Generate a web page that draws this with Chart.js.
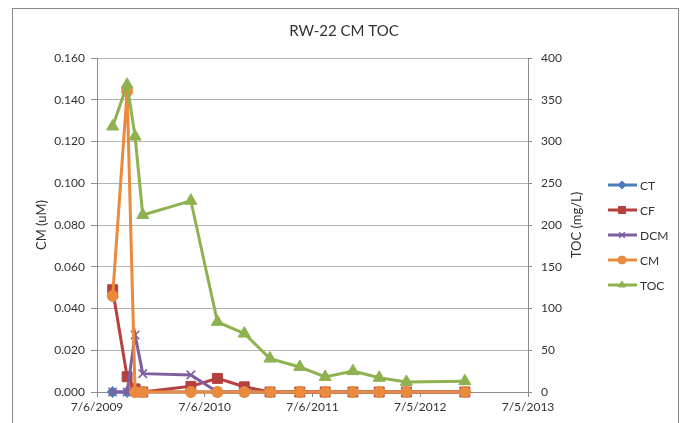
<!DOCTYPE html>
<html>
<head>
<meta charset="utf-8">
<title>RW-22 CM TOC</title>
<script src="https://cdn.jsdelivr.net/npm/chart.js@4/dist/chart.umd.min.js"></script>
<style>
    body { margin: 0; background: #fff; }
    canvas { display: block; }
</style>
</head>
<body>
<canvas id="tocChart" width="684" height="423"></canvas>
<script>
// Sample dates and measured values
const sampleDates = [
    '2009-08-28', '2009-10-16', '2009-11-12', '2009-12-08', '2010-05-20',
    '2010-08-18', '2010-11-17', '2011-02-12', '2011-05-24', '2011-08-18',
    '2011-11-20', '2012-02-17', '2012-05-19', '2012-12-03'
];
const ctValues  = [0, 0, 0, 0, 0, 0, 0, 0, 0, 0, 0, 0, 0, 0];
const cfValues  = [0.049, 0.0073, 0.0015, 0, 0.0027, 0.0065, 0.0025, 0, 0, 0, 0, 0, 0, 0];
const dcmValues = [0, 0, 0.0273, 0.0088, 0.0082, 0, 0, 0, 0, 0, 0, 0, 0, 0];
const cmValues  = [0.046, 0.144, 0, 0, 0, 0, 0, 0, 0, 0, 0, 0, 0, 0];
const tocValues = [318, 368, 306, 212, 229, 84, 70, 40, 30, 18, 25, 17, 12, 13];

// Axis ranges
const axisStart = '2009-07-06';
const axisEnd = '2013-07-05';
const axisStepDays = 365;
const cmMax = 0.16, cmStep = 0.02;
const tocMax = 400, tocStep = 50;

const DAY = 86400000;
const fontFamily = 'Lato, "Open Sans", sans-serif';
const textColor = '#333333';
const axisColor = '#8c8c8c';
const gridColor = '#b4b4b4';

const toPoints = values => values.map((v, i) => ({ x: Date.parse(sampleDates[i]), y: v }));

// m/d/yyyy like the spreadsheet
const formatDate = value => {
    const d = new Date(value);
    return (d.getUTCMonth() + 1) + '/' + d.getUTCDate() + '/' + d.getUTCFullYear();
};

const makeSeries = (label, values, color, style, radius, axis, order) => ({
    label: label,
    data: toPoints(values),
    yAxisID: axis,
    borderColor: color,
    backgroundColor: color,
    pointBackgroundColor: color,
    pointBorderColor: color,
    pointStyle: style,
    pointRadius: radius,
    pointBorderWidth: style === 'crossRot' ? 1.5 : 1,
    borderWidth: 3,
    tension: 0,
    clip: false, // markers on the zero line are not cut in half
    order: order
});

const datasets = [
    makeSeries('CT', ctValues, '#4a7ebb', 'rectRot', 5.5, 'yCM', 4),
    makeSeries('CF', cfValues, '#b5403d', 'rect', 7, 'yCM', 3),
    makeSeries('DCM', dcmValues, '#7d5fa0', 'crossRot', 6, 'yCM', 2),
    makeSeries('CM', cmValues, '#ea8a3c', 'circle', 5.5, 'yCM', 1),
    makeSeries('TOC', tocValues, '#8fb250', 'triangle', 7, 'yTOC', 0)
];

// Frame, title, axis titles and the Excel-style legend
const decorations = {
    id: 'decorations',
    beforeDraw(chart) {
        const ctx = chart.ctx;
        ctx.save();
        ctx.fillStyle = '#fff';
        ctx.fillRect(0, 0, chart.width, chart.height);
        ctx.strokeStyle = '#8a8a8a';
        ctx.lineWidth = 1;
        ctx.strokeRect(12.5, 8.5, 666, 450);
        ctx.restore();
    },
    afterDraw(chart) {
        const ctx = chart.ctx;
        const area = chart.chartArea;
        const midY = (area.top + area.bottom) / 2;
        ctx.save();
        ctx.fillStyle = textColor;
        ctx.textAlign = 'center';
        ctx.textBaseline = 'middle';

        ctx.font = '15px ' + fontFamily;
        ctx.fillText('RW-22 CM TOC', 344, 31);

        ctx.font = '13px ' + fontFamily;
        ctx.save();
        ctx.translate(42, midY);
        ctx.rotate(-Math.PI / 2);
        ctx.fillText('CM (uM)', 0, 0);
        ctx.restore();

        ctx.save();
        ctx.translate(577, midY);
        ctx.rotate(-Math.PI / 2);
        ctx.fillText('TOC (mg/L)', 0, 0);
        ctx.restore();

        // legend entries: short line with the marker in the middle
        ctx.font = '12px ' + fontFamily;
        ctx.textAlign = 'left';
        chart.data.datasets.forEach((ds, i) => {
            const y = 185 + i * 25;
            ctx.strokeStyle = ds.borderColor;
            ctx.lineWidth = 3;
            ctx.beginPath();
            ctx.moveTo(608, y);
            ctx.lineTo(637, y);
            ctx.stroke();
            ctx.fillStyle = ds.backgroundColor;
            ctx.lineWidth = ds.pointBorderWidth;
            Chart.helpers.drawPoint(ctx, {
                pointStyle: ds.pointStyle,
                radius: ds.pointStyle === 'rect' ? 5 : 4,
                rotation: 0,
                borderWidth: ds.pointBorderWidth
            }, 622, y);
            ctx.fillStyle = textColor;
            ctx.fillText(ds.label, 640, y + 1);
        });
        ctx.restore();
    }
};

const ctx = document.getElementById('tocChart').getContext('2d');
new Chart(ctx, {
    type: 'line',
    data: { datasets: datasets },
    options: {
        responsive: false,
        animation: false,
        devicePixelRatio: 1,
        layout: { padding: { top: 58, left: 0, right: 86, bottom: 0 } },
        plugins: {
            legend: { display: false },
            title: { display: false },
            tooltip: { enabled: false }
        },
        scales: {
            x: {
                type: 'linear',
                position: 'bottom',
                min: Date.parse(axisStart),
                max: Date.parse(axisEnd),
                ticks: {
                    stepSize: axisStepDays * DAY,
                    callback: value => formatDate(value),
                    color: textColor,
                    font: { family: fontFamily, size: 12 },
                    padding: 3,
                    maxRotation: 0,
                    autoSkip: false
                },
                grid: { drawOnChartArea: false, tickLength: 5, tickColor: axisColor },
                border: { color: axisColor },
                afterFit: scale => { scale.height = 31; }
            },
            yCM: {
                position: 'left',
                min: 0,
                max: cmMax,
                ticks: {
                    stepSize: cmStep,
                    callback: value => value.toFixed(3),
                    color: textColor,
                    font: { family: fontFamily, size: 12 },
                    padding: 6
                },
                grid: { color: gridColor, tickLength: 6, tickColor: axisColor },
                border: { color: axisColor },
                afterFit: scale => { scale.width = 97; }
            },
            yTOC: {
                position: 'right',
                min: 0,
                max: tocMax,
                ticks: {
                    stepSize: tocStep,
                    color: textColor,
                    font: { family: fontFamily, size: 12 },
                    padding: 9
                },
                grid: { drawOnChartArea: false, tickLength: 4, tickColor: axisColor },
                border: { color: axisColor },
                afterFit: scale => { scale.width = 70; }
            }
        }
    },
    plugins: [decorations]
});
</script>
</body>
</html>
